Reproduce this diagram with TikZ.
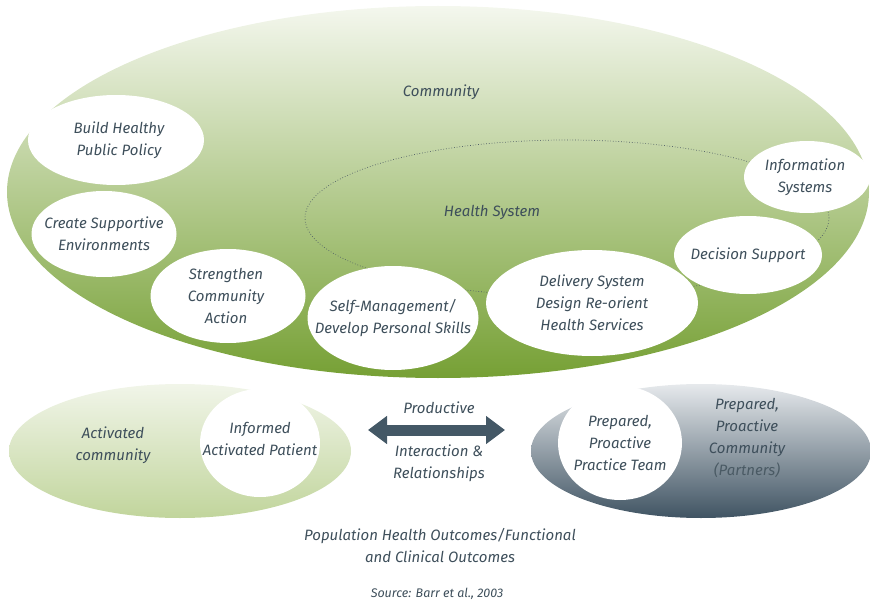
\documentclass[tikz,border=0pt]{standalone}
\usepackage{fontspec}
\setmainfont{Fira Sans}
\usetikzlibrary{arrows.meta,shapes.geometric}
\definecolor{CcmText}{RGB}{62,79,91}
\definecolor{CcmTextSoft}{RGB}{74,90,100}
\definecolor{CcmGreenTop}{RGB}{244,247,238}
\definecolor{CcmGreenMid}{RGB}{184,206,144}
\definecolor{CcmGreenBot}{RGB}{118,160,52}
\definecolor{CcmPaleTop}{RGB}{241,245,233}
\definecolor{CcmPaleBot}{RGB}{193,213,156}
\definecolor{CcmSlateTop}{RGB}{230,233,236}
\definecolor{CcmSlateMid}{RGB}{142,154,163}
\definecolor{CcmSlateBot}{RGB}{64,84,99}
\definecolor{CcmArrow}{RGB}{68,88,102}
\definecolor{CcmDots}{RGB}{80,94,102}
\tikzset{
  rotulo/.style={font=\fontsize{15}{22}\selectfont\itshape, text=CcmText, align=center},
  rotulopeq/.style={font=\fontsize{12.5}{16}\selectfont\itshape, text=CcmText, align=center},
  bolha/.style={ellipse, fill=white, inner sep=0pt},
  campo/.style={ellipse, inner sep=0pt},
  setadupla/.style={{Triangle[length=19pt,width=27pt]}-{Triangle[length=19pt,width=27pt]},
                    line width=11pt, CcmArrow},
}

\begin{document}
\begin{tikzpicture}[x=1pt, y=-1pt]
  \useasboundingbox (0,0) rectangle (870,604);

  % grande elipse: comunidade
  \node[campo, minimum width=862pt, minimum height=372pt,
        top color=CcmGreenTop, middle color=CcmGreenMid, bottom color=CcmGreenBot]
        (community) at (438,192) {};
  \node[rotulo] (communitytxt) at (441,92) {Community};

  % sistema de saude (pontilhado)
  \node[campo, draw=CcmDots, dotted, line width=0.7pt, minimum width=524pt, minimum height=156pt]
        (health) at (567,218) {};
  \node[rotulo] (healthtxt) at (492,212) {Health System};

  % bolhas brancas
  \node[bolha, minimum width=176pt, minimum height=90pt]  (policy)   at (116,140) {};
  \node[bolha, minimum width=145pt, minimum height=86pt]  (environ)  at (104,234) {};
  \node[bolha, minimum width=155pt, minimum height=94pt]  (action)   at (228,296) {};
  \node[bolha, minimum width=171pt, minimum height=104pt] (selfman)  at (393,318) {};
  \node[bolha, minimum width=212pt, minimum height=106pt] (delivery) at (592,303) {};
  \node[bolha, minimum width=148pt, minimum height=78pt]  (decision) at (748,255) {};
  \node[bolha, minimum width=126pt, minimum height=72pt]  (infosys)  at (807,177) {};
  \node[rotulo] at ([xshift=3pt]policy.center)   {Build Healthy\\Public Policy};
  \node[rotulo] at (environ.center)              {Create Supportive\\Environments};
  \node[rotulo] at ([xshift=-2pt]action.center)  {Strengthen\\Community\\Action};
  \node[rotulo] at (selfman.center)              {Self-Management/\\Develop Personal Skills};
  \node[rotulo] at (delivery.center)             {Delivery System\\Design Re-orient\\Health Services};
  \node[rotulo] at (decision.center)             {Decision Support};
  \node[rotulo] at ([xshift=-2pt]infosys.center) {Information\\Systems};

  % parte de baixo: paciente e equipe
  \node[campo, minimum width=342pt, minimum height=134pt,
        top color=CcmPaleTop, bottom color=CcmPaleBot] (actcomm) at (180,451) {};
  \node[rotulo] (actcommtxt) at (113,445) {Activated\\community};
  \node[bolha, minimum width=120pt, minimum height=108pt] (patient) at (260,443) {};
  \node[rotulo] at ([yshift=4pt]patient.center) {Informed\\Activated Patient};

  \node[campo, minimum width=340pt, minimum height=134pt,
        top color=CcmSlateTop, middle color=CcmSlateMid, bottom color=CcmSlateBot] (prepcomm) at (701,451) {};
  \node[bolha, minimum width=124pt, minimum height=114pt] (team) at (620,443) {};
  \node[rotulo] at (team.center) {Prepared,\\Proactive\\Practice Team};
  \node[rotulo, anchor=north] (prepcommtxt) at (747,395)
        {Prepared,\\Proactive\\Community\\{\color{CcmTextSoft}(Partners)}};

  % interacao produtiva
  \coordinate (arrowL) at (368,430);
  \coordinate (arrowR) at (505,430);
  \draw[setadupla] (arrowL) -- (arrowR);
  \node[rotulo] (prodtxt) at (439,408) {Productive};
  \node[rotulo] (intertxt) at (439,463) {Interaction \&\\Relationships};

  % resultados e fonte
  \node[rotulo] (outcomes) at (440,546) {Population Health Outcomes/Functional\\and Clinical Outcomes};
  \node[rotulopeq] (source) at (437,594) {Source: Barr et al., 2003};
\end{tikzpicture}
\end{document}
